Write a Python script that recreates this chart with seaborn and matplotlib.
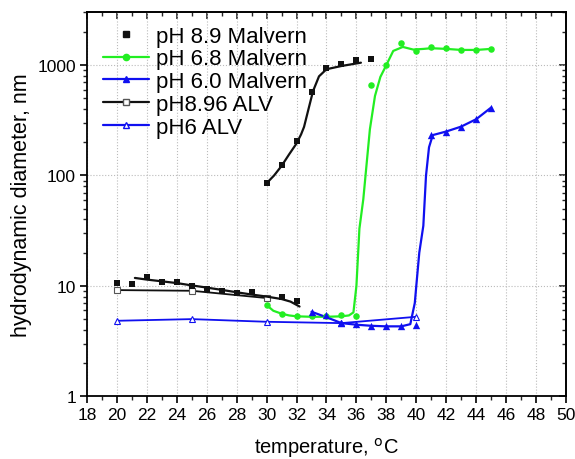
import numpy as np
import pandas as pd
import matplotlib
matplotlib.use("Agg")
import matplotlib.pyplot as plt
from matplotlib.lines import Line2D
from matplotlib.ticker import MultipleLocator, LogLocator, NullFormatter, FixedLocator
import seaborn as sns

# ---------------- data ----------------
# pH 8.9 Malvern (black squares, markers only)
m89_t = [20, 21, 22, 23, 24, 25, 26, 27, 28, 29, 31, 32,
         30, 31, 32, 33, 34, 35, 36, 37]
m89_d = [10.7, 10.4, 12.1, 10.9, 10.9, 10.0, 9.35, 9.0, 8.7, 8.8, 7.9, 7.3,
         85, 124, 203, 564, 949, 1017, 1105, 1128]

# pH 6.8 Malvern (green circles)
m68_t = [30, 31, 32, 33, 34, 35, 36, 37, 38, 39, 40, 41, 42, 43, 44, 45]
m68_d = [6.7, 5.56, 5.3, 5.3, 5.3, 5.44, 5.3, 661, 1000, 1574, 1342, 1458,
         1440, 1361, 1361, 1410]

# pH 6.0 Malvern (blue triangles)
m60_t = [33, 34, 35, 36, 37, 38, 39, 40, 41, 42, 43, 44, 45]
m60_d = [5.83, 5.4, 4.6, 4.5, 4.3, 4.3, 4.3, 4.4, 232, 250, 277, 323, 412]

# pH8.96 ALV (black open squares)
a89_t = [20, 25, 30]
a89_d = [9.16, 9.03, 7.76]

# pH6 ALV (blue open triangles)
a6_t = [20, 25, 30, 35, 40]
a6_d = [4.83, 5.0, 4.73, 4.6, 5.25]

# smoothed curves drawn through the Malvern data
c89lo_t = [21.2, 22, 23, 24, 25, 26, 27, 28, 29, 30, 31, 31.6, 32.2]
c89lo_d = [11.8, 11.4, 11.0, 10.6, 10.1, 9.65, 9.2, 8.75, 8.35, 8.0, 7.6, 7.2, 6.5]
c89hi_t = [30, 30.5, 31, 31.5, 32, 32.3, 32.5, 32.8, 33.1, 33.5, 34, 35, 36.3]
c89hi_d = [85, 100, 122, 155, 195, 235, 275, 400, 580, 790, 916, 980, 1050]
c68_t = [30, 30.45, 31, 31.5, 32, 33, 34, 35, 35.5, 35.8, 36.0, 36.2, 36.46,
         36.69, 36.9, 37.24, 37.6, 38, 38.46, 39.1, 39.8, 40.5, 41, 42, 43, 44, 45]
c68_d = [6.7, 5.95, 5.6, 5.4, 5.3, 5.25, 5.25, 5.3, 5.4, 5.75, 10, 33, 61,
         131, 262, 525, 780, 1000, 1342, 1458, 1380, 1400, 1420, 1400, 1370, 1370, 1400]
c60_t = [33, 34, 35, 36, 37, 38, 39, 39.6, 39.9, 40.0, 40.2, 40.47, 40.65,
         40.85, 41.1, 42, 43, 44, 45]
c60_d = [5.83, 5.2, 4.6, 4.45, 4.35, 4.3, 4.3, 4.5, 7, 10, 20, 35, 100,
         180, 232, 250, 277, 323, 412]

BLACK = "#111111"
GREEN = "#22ee22"
BLUE = "#1010f0"

sns.set_theme(style="ticks")
plt.rcParams["font.family"] = ["Liberation Sans", "DejaVu Sans"]
plt.rcParams["text.color"] = "black"
plt.rcParams["axes.labelcolor"] = "black"

fig = plt.figure(figsize=(5.75, 4.6), dpi=100)
ax = fig.add_axes([0.1513, 0.1363, 0.8330, 0.8347])

lw = 1.6
# lines
sns.lineplot(x=a6_t, y=a6_d, ax=ax, color=BLUE, lw=1.3, sort=False,
             marker="^", markersize=5, markerfacecolor="white",
             markeredgecolor=BLUE, markeredgewidth=0.8)
sns.lineplot(x=a89_t, y=a89_d, ax=ax, color=BLACK, lw=1.3, sort=False,
             marker="s", markersize=4.5, markerfacecolor="white",
             markeredgecolor="#555555", markeredgewidth=0.8)
sns.lineplot(x=c89lo_t, y=c89lo_d, ax=ax, color=BLACK, lw=lw, sort=False)
sns.lineplot(x=c89hi_t, y=c89hi_d, ax=ax, color=BLACK, lw=lw, sort=False)
sns.lineplot(x=c68_t, y=c68_d, ax=ax, color=GREEN, lw=lw, sort=False)
sns.lineplot(x=c60_t, y=c60_d, ax=ax, color=BLUE, lw=lw, sort=False)

# markers
sns.scatterplot(x=m89_t, y=m89_d, ax=ax, color=BLACK, marker="s", s=22,
                edgecolor=BLACK, linewidth=0, zorder=5)
sns.scatterplot(x=m68_t, y=m68_d, ax=ax, color=GREEN, marker="o", s=22,
                edgecolor=GREEN, linewidth=0, zorder=5)
sns.scatterplot(x=m60_t, y=m60_d, ax=ax, color=BLUE, marker="^", s=28,
                edgecolor=BLUE, linewidth=0, zorder=5)

ax.set_yscale("log")
ax.set_xlim(18, 50)
ax.set_ylim(1, 3000)

ax.xaxis.set_major_locator(MultipleLocator(2))
ax.xaxis.set_minor_locator(MultipleLocator(1))
ax.yaxis.set_major_locator(FixedLocator([1, 10, 100, 1000]))
ax.yaxis.set_minor_locator(LogLocator(base=10, subs=np.arange(2, 10)))
ax.yaxis.set_minor_formatter(NullFormatter())
ax.set_yticklabels(["1", "10", "100", "1000"])

ax.grid(True, which="major", color="#bbbbbb", linestyle=":", linewidth=0.8)

for s in ax.spines.values():
    s.set_linewidth(1.3)
    s.set_color("black")

ax.tick_params(axis="both", which="major", direction="out", length=5, width=1.2,
               labelsize=12.5, colors="black", pad=3)
ax.tick_params(axis="both", which="minor", direction="out", length=3, width=1.0)

# mirrored inward ticks on top and right
axt = ax.secondary_xaxis("top")
axt.xaxis.set_major_locator(MultipleLocator(2))
axt.xaxis.set_minor_locator(MultipleLocator(1))
axt.tick_params(which="major", direction="in", length=5, width=1.2, labeltop=False)
axt.tick_params(which="minor", direction="in", length=3, width=1.0)
axr = ax.secondary_yaxis("right")
axr.yaxis.set_major_locator(FixedLocator([1, 10, 100, 1000]))
axr.yaxis.set_minor_locator(LogLocator(base=10, subs=np.arange(2, 10)))
axr.tick_params(which="major", direction="in", length=5, width=1.2, labelright=False)
axr.tick_params(which="minor", direction="in", length=3, width=1.0, labelright=False)
axr.yaxis.set_minor_formatter(NullFormatter())
axr.yaxis.set_major_formatter(NullFormatter())

ax.set_xlabel("temperature, $^{\\rm o}$C", fontsize=14.5, color="black", labelpad=9)
ax.set_ylabel("hydrodynamic diameter, nm", fontsize=15.5, color="black", labelpad=4)

handles = [
    Line2D([], [], color=BLACK, linestyle="none", marker="s", markersize=4.5),
    Line2D([], [], color=GREEN, lw=lw, marker="o", markersize=4.5),
    Line2D([], [], color=BLUE, lw=lw, marker="^", markersize=5),
    Line2D([], [], color=BLACK, lw=lw, marker="s", markersize=4.5,
           markerfacecolor="white", markeredgecolor="#555555"),
    Line2D([], [], color=BLUE, lw=lw, marker="^", markersize=5,
           markerfacecolor="white", markeredgecolor=BLUE),
]
labels = ["pH 8.9 Malvern", "pH 6.8 Malvern", "pH 6.0 Malvern",
          "pH8.96 ALV", "pH6 ALV"]
leg = ax.legend(handles, labels, loc="upper left", bbox_to_anchor=(0.005, 1.0),
                frameon=False, fontsize=16, handlelength=2.1, handletextpad=0.3,
                labelspacing=0.08, borderaxespad=0.2)
for t in leg.get_texts():
    t.set_color("black")

fig.savefig("out.png", dpi=100)
